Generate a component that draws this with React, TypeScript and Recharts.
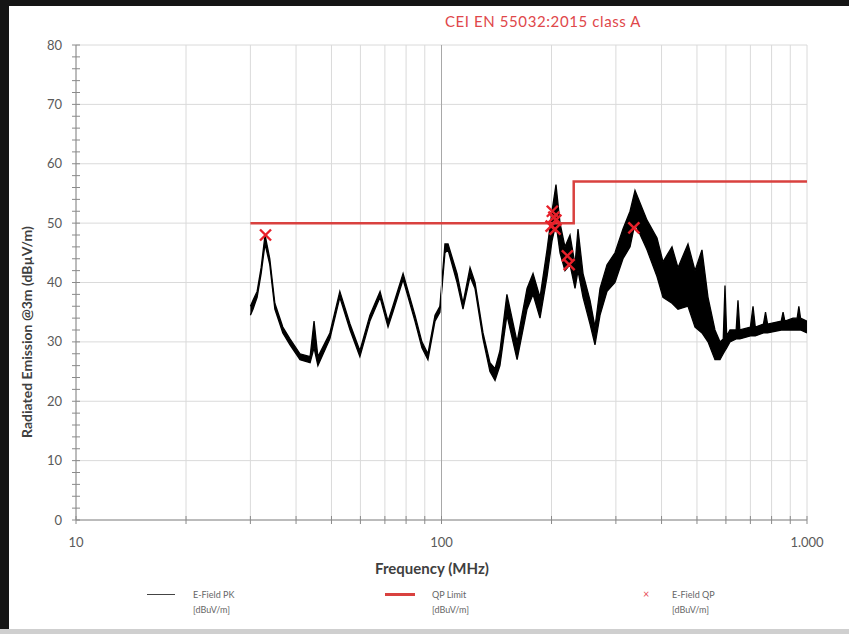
import {
  ComposedChart,
  Area,
  Line,
  Scatter,
  XAxis,
  YAxis,
  CartesianGrid,
  ReferenceLine,
} from "recharts";

// E-Field PK trace, read as a low/high band (MHz, dBuV/m)
const pkFreq = [
  30, 30.5, 31.3, 32.1, 32.9, 33.9, 35, 36.8, 38.5, 41, 43.7, 44.8, 45.9, 49.5,
  52.7, 56.2, 59.8, 63.7, 67.9, 71.4, 73.6, 78.5, 84.6, 88.4, 91.8, 96, 99,
  102.2, 104.2, 110.3, 114.5, 119.7, 123.5, 129.9, 135.7, 140.1, 144.5, 151,
  161, 171.4, 178, 186, 194.4, 200.6, 205.7, 211, 217.7, 224.7, 231.9, 236.3,
  243.9, 254.9, 263, 271.5, 283.7, 298.3, 313.7, 328, 338.4, 365, 388.7, 403.6,
  427.2, 443.6, 472.5, 493.9, 516, 536, 560, 578, 590, 596.5, 603, 615.6, 640,
  647.4, 655, 700, 711.7, 722, 760, 770, 780, 850, 860, 870, 915.6, 940, 950,
  960, 1000,
];
const pkLow = [
  34.5, 35.5, 37.5, 41.5, 46.5, 43, 35.5, 31.5, 29.5, 27, 26.5, 29, 26, 30.5, 37.5, 32, 27.5,
  33.5, 37.5, 32.5, 35, 40.5, 33.5, 29, 27, 33.5, 35, 45, 45.5, 40, 35.5, 41, 39,
  30.5, 25, 23.5, 26, 34.5, 27, 35.5, 38, 34, 41, 47, 50, 45, 42, 43, 39, 42,
  37.5, 33, 29.5, 34.5, 38.5, 40, 44, 46, 50, 45.5, 41, 37.5, 36.5, 35.5, 36,
  32.5, 31.5, 30, 27, 27, 28, 28.5, 29, 30, 30.5, 30.5, 30.5, 31, 31, 31, 31.5,
  31.5, 31.5, 32, 32, 32, 32, 32, 32, 32, 31.5,
];
const pkHigh = [
  36, 37, 38.5, 42.5, 48, 44, 36.5, 32.5, 30.5, 28, 27.5, 33.5, 27.5, 31.5, 38.5, 33, 28.5,
  34.5, 38.5, 33.5, 36, 41.5, 34.5, 30, 28, 34.5, 36, 46.5, 46.5, 41.5, 36.5, 42.5, 40,
  31.5, 26.5, 25.5, 28.5, 38, 30, 39, 41.5, 37.5, 45.5, 52, 56.5, 50, 46, 48, 43,
  49, 41.5, 37, 32.5, 39, 43, 45, 49, 52, 55.5, 50.5, 47.5, 43.5, 46, 42.5,
  46.5, 42, 45.5, 37.5, 32, 30, 30.5, 39.5, 31, 32, 32, 37, 32, 32.5, 36, 32.5,
  33, 35, 33, 33.5, 35, 33.5, 34, 34, 36, 34, 33.5,
];

// QP limit, CEI EN 55032:2015 class A
const limitFreq = [30, 230, 230, 1000];
const limitValue = [50, 50, 57, 57];

// E-Field QP measurements
const qpFreq = [33, 199.5, 201, 203, 204.5, 205.5, 221, 223.5, 336];
const qpValue = [48, 49.5, 52, 51, 49, 50.5, 44.5, 43, 49.2];

const xTicks = [10, 20, 30, 40, 50, 60, 70, 80, 90, 100, 200, 300, 400, 500, 600, 700, 800, 900, 1000];
const xLabels: Record<number, string> = { 10: "10", 100: "100", 1000: "1.000" };
const yTicks = Array.from({ length: 41 }, (_, i) => i * 2);
const yMajor = [0, 10, 20, 30, 40, 50, 60, 70, 80];

const pkData = pkFreq.map((f, i) => ({ freq: f, band: [pkLow[i], pkHigh[i]] }));
const limitData = limitFreq.map((f, i) => ({ freq: f, limit: limitValue[i] }));
const qpData = qpFreq.map((f, i) => ({ freq: f, qp: qpValue[i] }));

const RED = "#d9413f";
const FONT = "Lato, 'Open Sans', sans-serif";
const AXIS = "#8a8a8a";

const XMark = (props: { cx?: number; cy?: number }) => {
  const { cx = 0, cy = 0 } = props;
  const s = 5.5;
  return (
    <g stroke="#e8202a" strokeWidth={2.4}>
      <line x1={cx - s} y1={cy - s} x2={cx + s} y2={cy + s} />
      <line x1={cx - s} y1={cy + s} x2={cx + s} y2={cy - s} />
    </g>
  );
};

// ticks crossing the axis line, as in the original
const XTick = (props: any) => {
  const { x, y, payload } = props;
  const ay = y - 18;
  return (
    <g>
      <line x1={x} y1={ay - 4} x2={x} y2={ay + 4} stroke={AXIS} />
      <text x={x} y={y} dy="0.71em" textAnchor="middle" fontSize={13} fill="#5a5a5a">
        {xLabels[payload.value] ?? ""}
      </text>
    </g>
  );
};

const YTick = (props: any) => {
  const { x, y, payload } = props;
  const ax = x + 14;
  return (
    <g>
      <line x1={ax - 4} y1={y} x2={ax + 4} y2={y} stroke={AXIS} />
      <text x={x} y={y} dy="0.355em" textAnchor="end" fontSize={13} fill="#5a5a5a">
        {payload.value % 10 === 0 ? payload.value : ""}
      </text>
    </g>
  );
};

const legendText = { position: "absolute" as const, fontSize: 9, color: "#666", lineHeight: "15px", fontFamily: FONT };

export default function App() {
  return (
    <div style={{ position: "fixed", left: 0, top: 0, width: 849, height: 634, background: "#151515", overflow: "hidden" }}>
      <div style={{ position: "absolute", left: 9, top: 6, width: 840, height: 623, background: "#fff" }} />
      <div style={{ position: "absolute", left: 0, top: 629, width: 849, height: 5, background: "#cfcfcf" }} />

      {/* Title */}
      <div style={{ position: "absolute", left: 393, top: 12, width: 300, textAlign: "center", color: "#e0474a", fontSize: 15, letterSpacing: 0.6, fontFamily: FONT }}>
        CEI EN 55032:2015 class A
      </div>

      <div style={{ position: "absolute", left: 0, top: 0 }}>
        <ComposedChart width={849} height={634} margin={{ top: 45, right: 42, left: 20, bottom: 64 }} style={{ fontFamily: FONT }}>
          <CartesianGrid stroke="#dadada" horizontalValues={yMajor} verticalValues={xTicks} />
          <XAxis
            type="number"
            dataKey="freq"
            scale="log"
            domain={[10, 1000]}
            allowDataOverflow
            ticks={xTicks}
            interval={0}
            height={50}
            stroke={AXIS}
            tickLine={false}
            tickSize={5}
            tickMargin={13}
            tick={<XTick />}
            label={{
              content: () => (
                <text x={432} y={574} textAnchor="middle" fontSize={15} fontWeight="bold" fill="#3f3f3f" fontFamily={FONT}>
                  Frequency (MHz)
                </text>
              ),
            }}
          />
          <YAxis
            type="number"
            domain={[0, 80]}
            ticks={yTicks}
            interval={0}
            width={56}
            stroke={AXIS}
            tickLine={false}
            tickSize={5}
            tickMargin={9}
            tick={<YTick />}
            label={{
              content: () => (
                <text x={32} y={332} transform="rotate(-90 32 332)" textAnchor="middle" fontSize={14} fontWeight="bold" fill="#3f3f3f" fontFamily={FONT}>
                  Radiated Emission @3m (dBµV/m)
                </text>
              ),
            }}
          />
          <ReferenceLine x={100} stroke="#a8a8a8" />
          <Area
            data={pkData}
            dataKey="band"
            type="linear"
            stroke="#000"
            strokeWidth={1.3}
            fill="#000"
            fillOpacity={1}
            isAnimationActive={false}
          />
          <Line
            data={limitData}
            dataKey="limit"
            type="linear"
            stroke={RED}
            strokeWidth={2.5}
            dot={false}
            isAnimationActive={false}
          />
          <Scatter data={qpData} dataKey="qp" shape={XMark} isAnimationActive={false} />
        </ComposedChart>
      </div>

      {/* Legend */}
      <div style={{ position: "absolute", left: 147, top: 594, width: 28, height: 1, background: "#444" }} />
      <div style={{ ...legendText, left: 193, top: 587 }}>
        E-Field PK
        <br />
        [dBuV/m]
      </div>
      <div style={{ position: "absolute", left: 385, top: 593, width: 30, height: 3, background: RED }} />
      <div style={{ ...legendText, left: 432, top: 587 }}>
        QP Limit
        <br />
        [dBuV/m]
      </div>
      <div style={{ position: "absolute", left: 643, top: 587, fontSize: 11, color: "#e8505a", fontFamily: FONT }}>×</div>
      <div style={{ ...legendText, left: 672, top: 587 }}>
        E-Field QP
        <br />
        [dBuV/m]
      </div>
    </div>
  );
}
